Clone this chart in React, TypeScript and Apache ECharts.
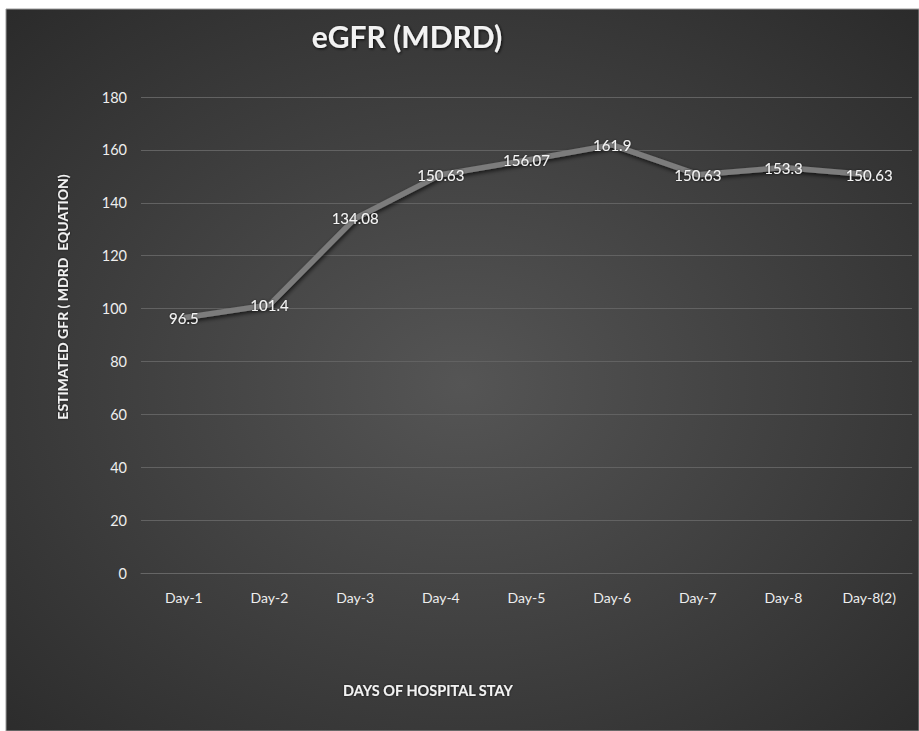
import React, { useEffect, useRef } from "react";
import * as echarts from "echarts";

const categories = ["Day-1", "Day-2", "Day-3", "Day-4", "Day-5", "Day-6", "Day-7", "Day-8", "Day-8(2)"];
const egfrValues = [96.5, 101.4, 134.08, 150.63, 156.07, 161.9, 150.63, 153.3, 150.63];
const yMin = 0;
const yMax = 180;
const yStep = 20;

const FONT = "Lato, 'Open Sans', sans-serif";

export default function App() {
  const ref = useRef<HTMLDivElement>(null);
  useEffect(() => {
    if (!ref.current) return;
    const chart = echarts.init(ref.current, null, { renderer: "svg" });
    chart.setOption({
      animation: false,
      backgroundColor: "#ffffff",
      graphic: [
        {
          type: "rect",
          z: -10,
          silent: true,
          shape: { x: 6, y: 9, width: 913, height: 722 },
          style: {
            fill: {
              type: "radial",
              x: 0.5,
              y: 0.52,
              r: 0.75,
              colorStops: [
                { offset: 0, color: "#555555" },
                { offset: 1, color: "#292929" },
              ],
            },
            stroke: "#9a9a9a",
            lineWidth: 1,
          },
        },
        {
          type: "text",
          x: 407,
          y: 36,
          style: {
            text: "eGFR (MDRD)",
            fill: "#f2f2f2",
            font: `bold 30px ${FONT}`,
            align: "center",
            verticalAlign: "middle",
            textShadowColor: "rgba(0,0,0,0.8)",
            textShadowBlur: 3,
            textShadowOffsetX: 1,
            textShadowOffsetY: 1,
          },
        },
        {
          type: "text",
          x: 62,
          y: 297,
          rotation: Math.PI / 2,
          style: {
            text: "ESTIMATED GFR ( MDRD  EQUATION)",
            fill: "#f2f2f2",
            font: `bold 14px ${FONT}`,
            align: "center",
            verticalAlign: "middle",
            textShadowColor: "rgba(0,0,0,0.7)",
            textShadowBlur: 2,
          },
        },
        {
          type: "text",
          x: 428,
          y: 690,
          style: {
            text: "DAYS OF HOSPITAL STAY",
            fill: "#f2f2f2",
            font: `bold 14.5px ${FONT}`,
            align: "center",
            verticalAlign: "middle",
            textShadowColor: "rgba(0,0,0,0.7)",
            textShadowBlur: 2,
          },
        },
      ],
      grid: { left: 141, right: 7, top: 97, bottom: 158, containLabel: false },
      xAxis: {
        type: "category",
        data: categories,
        boundaryGap: true,
        axisLine: { show: true, lineStyle: { color: "#666666", width: 1 } },
        axisTick: { show: false },
        axisLabel: { color: "#eeeeee", fontSize: 14, fontFamily: FONT, margin: 17 },
      },
      yAxis: {
        type: "value",
        min: yMin,
        max: yMax,
        interval: yStep,
        axisLine: { show: false },
        axisTick: { show: false },
        axisLabel: { color: "#eeeeee", fontSize: 14.5, fontFamily: FONT, margin: 14 },
        splitLine: { show: true, lineStyle: { color: "#626262", width: 1 } },
      },
      series: [
        {
          type: "line",
          data: egfrValues,
          symbol: "circle",
          symbolSize: 1,
          showSymbol: true,
          itemStyle: { color: "rgba(0,0,0,0)" },
          lineStyle: {
            color: "#7c7c7c",
            width: 5.5,
            shadowColor: "rgba(0,0,0,0.7)",
            shadowBlur: 4,
            shadowOffsetX: 1,
            shadowOffsetY: 2,
          },
          label: {
            show: true,
            position: "inside",
            color: "#f4f4f4",
            fontSize: 15,
            fontFamily: FONT,
            textShadowColor: "rgba(0,0,0,0.6)",
            textShadowBlur: 2,
          },
        },
      ],
    });
    return () => chart.dispose();
  }, []);
  return (
    <div
      ref={ref}
      style={{ position: "absolute", left: 0, top: 0, width: 919, height: 731 }}
    />
  );
}
